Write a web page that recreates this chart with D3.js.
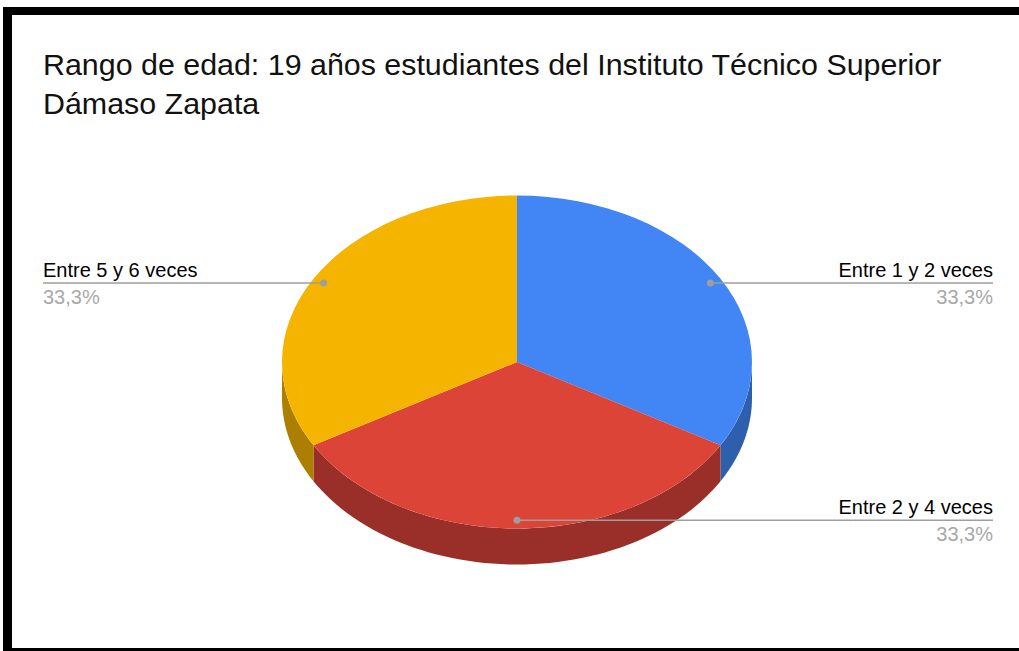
<!DOCTYPE html>
<meta charset="utf-8">
<title>Rango de edad: 19 años</title>
<style>
body { margin: 0; background: #fff; }
svg { display: block; font-family: Arial, "Liberation Sans", sans-serif; }
</style>
<svg width="1019" height="651"></svg>
<script src="https://d3js.org/d3.v7.min.js"></script>
<script>
// datos
var categories = ["Entre 1 y 2 veces", "Entre 2 y 4 veces", "Entre 5 y 6 veces"];
var values = [1, 1, 1];
var topColors = ["#4285f4", "#db4437", "#f4b400"];
var sideColors = ["#2d5fad", "#992f28", "#ad7f00"];
var titleLines = ["Rango de edad: 19 años estudiantes del Instituto Técnico Superior", "Dámaso Zapata"];

var svg = d3.select("svg"),
    width = +svg.attr("width"),
    height = +svg.attr("height");

// marco negro
svg.append("rect").attr("x", 3).attr("y", 7).attr("width", width - 3).attr("height", 8).attr("fill", "#000");
svg.append("rect").attr("x", 3).attr("y", 7).attr("width", 9).attr("height", height - 7).attr("fill", "#000");
svg.append("rect").attr("x", 3).attr("y", 648).attr("width", width - 3).attr("height", 3).attr("fill", "#000");

svg.append("g").selectAll("text")
  .data(titleLines)
  .enter().append("text")
    .attr("x", 43)
    .attr("y", function(d, i) { return 75 + i * 39; })
    .attr("font-size", 30.4)
    .attr("fill", "#111")
    .text(function(d) { return d; });

var cx = 517, cy = 362, rx = 235, ry = 166.5, depth = 36;
var total = d3.sum(values);
var fmt = function(v) { return d3.format(".1f")(v / total * 100).replace(".", ",") + "%"; };

var data = categories.map(function(c, i) { return {name: c, value: values[i], i: i}; });
var pie = d3.pie().sort(null).value(function(d) { return d.value; });
var arcs = pie(data);

var g = svg.append("g").attr("transform", "translate(" + cx + "," + cy + ")");

// paredes laterales (solo la mitad frontal)
var line = d3.line();
function sidePath(d) {
  var a0 = Math.max(d.startAngle, Math.PI / 2),
      a1 = Math.min(d.endAngle, 3 * Math.PI / 2);
  if (a1 <= a0) return null;
  var pts = [], n = 60, k;
  for (k = 0; k <= n; k++) {
    var a = a0 + (a1 - a0) * k / n;
    pts.push([rx * Math.sin(a), -ry * Math.cos(a)]);
  }
  for (k = n; k >= 0; k--) {
    var b = a0 + (a1 - a0) * k / n;
    pts.push([rx * Math.sin(b), -ry * Math.cos(b) + depth]);
  }
  return line(pts) + "Z";
}

g.selectAll(".side")
  .data(arcs.filter(function(d) { return sidePath(d); }))
  .enter().append("path")
    .attr("class", "side")
    .attr("d", sidePath)
    .attr("fill", function(d) { return sideColors[d.data.i]; });

var arc = d3.arc().innerRadius(0).outerRadius(rx);
g.append("g")
  .attr("transform", "scale(1," + (ry / rx) + ")")
  .selectAll("path")
  .data(arcs)
  .enter().append("path")
    .attr("d", arc)
    .attr("fill", function(d) { return topColors[d.data.i]; });

// etiquetas
var labels = svg.append("g").selectAll("g")
  .data(arcs)
  .enter().append("g");

labels.each(function(d) {
  var sel = d3.select(this);
  var a = (d.startAngle + d.endAngle) / 2;
  var px = cx + 0.95 * rx * Math.sin(a),
      py = cy - 0.95 * ry * Math.cos(a);
  var right = Math.sin(a) >= 0;
  var ex = right ? 993 : 43;
  sel.append("line")
    .attr("x1", px).attr("y1", py).attr("x2", ex).attr("y2", py)
    .attr("stroke", "#9e9e9e").attr("stroke-width", 1.5);
  sel.append("circle")
    .attr("cx", px).attr("cy", py).attr("r", 3.5)
    .attr("fill", "#9e9e9e");
  sel.append("text")
    .attr("x", ex).attr("y", py - 6)
    .attr("text-anchor", right ? "end" : "start")
    .attr("font-size", 20)
    .attr("fill", "#000")
    .text(d.data.name);
  sel.append("text")
    .attr("x", ex).attr("y", py + 21)
    .attr("text-anchor", right ? "end" : "start")
    .attr("font-size", 20)
    .attr("fill", "#a8a8a8")
    .text(fmt(d.data.value));
});
</script>
